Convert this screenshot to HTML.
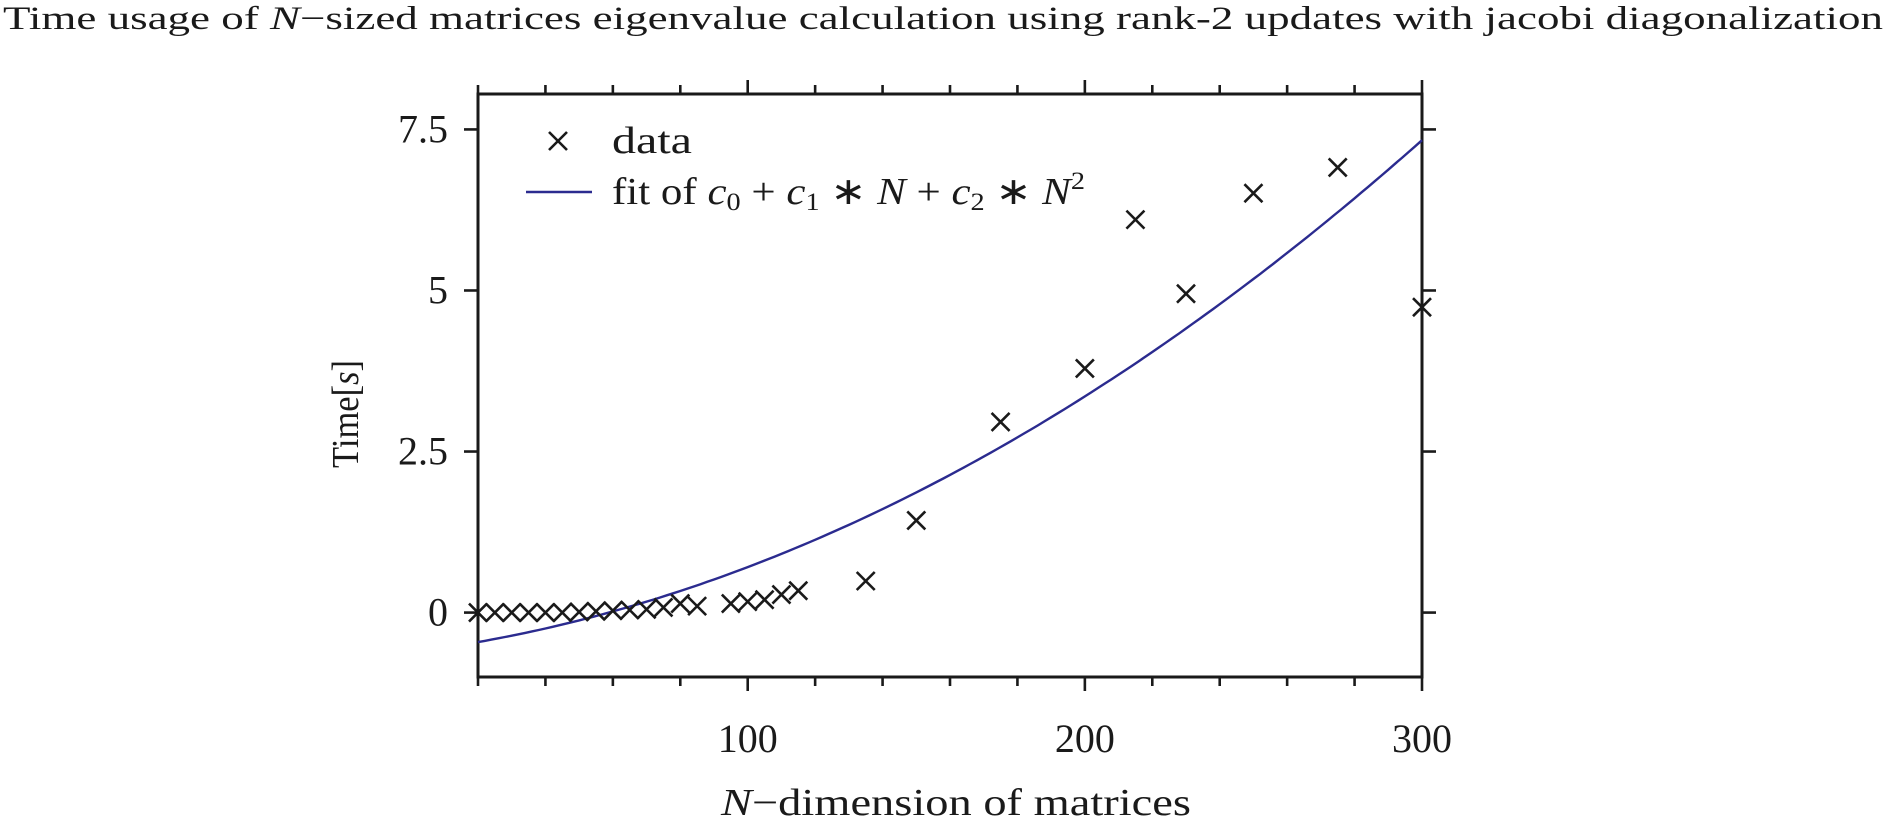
<!DOCTYPE html>
<html><head><meta charset="utf-8"><style>
body{margin:0;background:#fff;}
svg text{font-family:"Liberation Serif",serif;fill:#1a1a1a;}
</style></head><body>
<svg id="chart" width="1900" height="816" xmlns="http://www.w3.org/2000/svg">
<text x="3" y="29" font-size="33" textLength="1880" lengthAdjust="spacingAndGlyphs">Time usage of <tspan font-style="italic">N</tspan>−sized matrices eigenvalue calculation using rank-2 updates with jacobi diagonalization</text>
<g id="axes"></g>
<g id="fit"></g>
<g id="points"></g>
<g>
 <path d="M549 132 L567 150 M567 132 L549 150" stroke="#1a1a1a" stroke-width="2.6"/>
 <text x="612" y="153" font-size="38" textLength="80" lengthAdjust="spacingAndGlyphs">data</text>
 <line x1="526" y1="192" x2="592" y2="192" stroke="#2b2b8f" stroke-width="2.4"/>
 <text x="612" y="204" font-size="38" textLength="473" lengthAdjust="spacingAndGlyphs">fit of <tspan font-style="italic">c</tspan><tspan font-size="25" dy="6">0</tspan><tspan dy="-6"> + </tspan><tspan font-style="italic">c</tspan><tspan font-size="25" dy="6">1</tspan><tspan dy="-6"> ∗ </tspan><tspan font-style="italic">N</tspan> + <tspan font-style="italic">c</tspan><tspan font-size="25" dy="6">2</tspan><tspan dy="-6"> ∗ </tspan><tspan font-style="italic">N</tspan><tspan font-size="25" dy="-15">2</tspan></text>
</g>
<text transform="translate(358,414) rotate(-90)" text-anchor="middle" font-size="38" textLength="108" lengthAdjust="spacingAndGlyphs">Time[<tspan font-style="italic">s</tspan>]</text>
<text x="956" y="815" text-anchor="middle" font-size="38" textLength="470" lengthAdjust="spacingAndGlyphs"><tspan font-style="italic">N</tspan>−dimension of matrices</text>
</svg>
<script>
const xsN = [20,25,30,35,40,45,50,55,60,65,70,75,80,85,95,100,105,110,115,135,150,175,200,215,230,250,275,300];
const timesS = [0,0,0,0,0,0,0.01,0.02,0.03,0.04,0.05,0.08,0.14,0.1,0.14,0.17,0.2,0.28,0.34,0.49,1.43,2.96,3.79,6.1,4.95,6.51,6.91,4.74];
const xTicks = [100,200,300];
const yTicks = [0,2.5,5,7.5];
const yTickLabels = ["0","2.5","5","7.5"];

const L=478,R=1422,T=94,B=677, X0=20,X1=300, Y0=-1,Y1=8.05;
const sx=v=>L+(v-X0)/(X1-X0)*(R-L);
const sy=v=>B-(v-Y0)/(Y1-Y0)*(B-T);
const NS="http://www.w3.org/2000/svg";
function mk(tag,attrs,parent){const e=document.createElementNS(NS,tag);for(const k in attrs)e.setAttribute(k,attrs[k]);parent.appendChild(e);return e;}
const axes=document.getElementById('axes');
const frame=mk('rect',{x:L,y:T,width:R-L,height:B-T,fill:'none',stroke:'#1a1a1a','stroke-width':3},axes);


for(let v=20; v<=300; v+=20){
  const major=xTicks.includes(v); const len=major?14:9; const x=sx(v);
  const t1=mk('line',{x1:x,y1:B,x2:x,y2:B+len,stroke:'#1a1a1a','stroke-width':2.6},axes);
  
  
  const t2=mk('line',{x1:x,y1:T,x2:x,y2:T-len,stroke:'#1a1a1a','stroke-width':2.6},axes);
  
  
}
xTicks.forEach(v=>{
  const t=mk('text',{x:sx(v),y:752,'text-anchor':'middle','font-size':40},axes); t.textContent=String(v);
  
  
});
yTicks.forEach((v,i)=>{
  const y=sy(v);
  const a=mk('line',{x1:L-14,y1:y,x2:L,y2:y,stroke:'#1a1a1a','stroke-width':2.6},axes);
  
  
  const b=mk('line',{x1:R,y1:y,x2:R+14,y2:y,stroke:'#1a1a1a','stroke-width':2.6},axes);
  
  
  const t=mk('text',{x:448,y:y+13,'text-anchor':'end','font-size':40},axes); t.textContent=yTickLabels[i];
  
  
});
function fit(){
  let S=[0,0,0,0,0],Ty=[0,0,0];
  xsN.forEach((x,i)=>{for(let k=0;k<5;k++)S[k]+=Math.pow(x,k);for(let k=0;k<3;k++)Ty[k]+=timesS[i]*Math.pow(x,k);});
  const A=[[S[0],S[1],S[2],Ty[0]],[S[1],S[2],S[3],Ty[1]],[S[2],S[3],S[4],Ty[2]]];
  for(let i=0;i<3;i++){for(let j=i+1;j<3;j++){const f=A[j][i]/A[i][i];for(let k=i;k<4;k++)A[j][k]-=f*A[i][k];}}
  const c=[0,0,0];for(let i=2;i>=0;i--){let s=A[i][3];for(let k=i+1;k<3;k++)s-=A[i][k]*c[k];c[i]=s/A[i][i];}
  return c;
}
const c=fit();
let d='';
for(let n=X0;n<=X1;n+=2){const y=c[0]+c[1]*n+c[2]*n*n;d+=(n===X0?'M':'L')+sx(n).toFixed(1)+' '+sy(y).toFixed(1);}
const fl=mk('path',{d:d,fill:'none',stroke:'#2b2b8f','stroke-width':2.4},document.getElementById('fit'));


const pts=document.getElementById('points');
xsN.forEach((x,i)=>{
  const px=sx(x),py=sy(timesS[i]),h=9;
  const p=mk('path',{d:`M${px-h} ${py-h}L${px+h} ${py+h}M${px+h} ${py-h}L${px-h} ${py+h}`,stroke:'#1a1a1a','stroke-width':2.6},pts);
  
  
});
</script>
</body></html>
